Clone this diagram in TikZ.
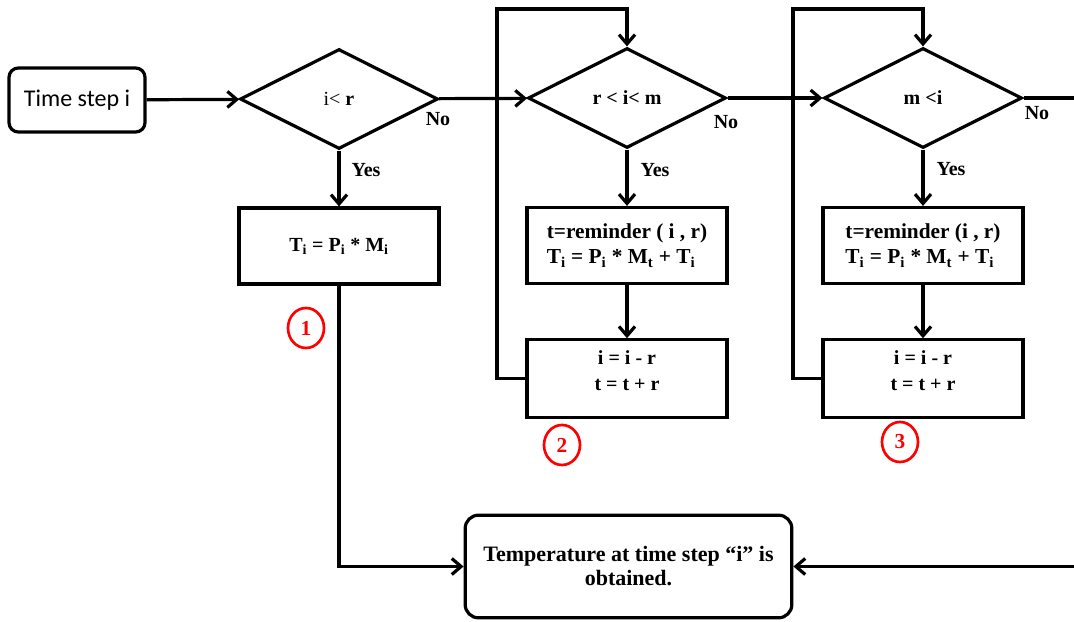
\documentclass[tikz,border=0pt]{standalone}
\usepackage{fontspec}
\setmainfont{Liberation Serif}
\newfontfamily\calibrifont{Carlito}
\usetikzlibrary{shapes.geometric,arrows.meta}

\tikzset{
  lbl/.style={font=\bfseries\fontsize{15}{19}\selectfont},
  biglbl/.style={font=\bfseries\fontsize{16}{19}\selectfont},
  startbox/.style={draw, rounded corners=7pt, line width=2.4pt, minimum width=102pt, minimum height=48pt, font=\calibrifont\fontsize{18}{20}\selectfont},
  decision/.style={diamond, draw, line width=2.4pt, minimum width=148.5pt, minimum height=75pt, inner sep=0pt, lbl},
  process/.style={rectangle, draw, line width=2.4pt, minimum width=150pt, minimum height=57pt, lbl},
  endbox/.style={rectangle, draw, rounded corners=10pt, line width=2.4pt, minimum width=245pt, minimum height=77pt, align=center, font=\bfseries\fontsize{16.5}{18}\selectfont},
  marker/.style={ellipse, draw=red, text=red, line width=2pt, minimum width=27pt, minimum height=30pt, inner sep=0pt, font=\bfseries\fontsize{16}{18}\selectfont},
  plainline/.style={line width=2.4pt},
  flowline/.style={line width=2.4pt, -{Straight Barb[length=7pt,width=12pt]}}
}

\begin{document}
\begin{tikzpicture}[x=0.75pt,y=-0.75pt]
		%%%%% START %%%%%
		\useasboundingbox (0,0) rectangle (1074,621);
		
		\node[startbox] (start) at (77,100) {Time step i};
		
		\node[decision] (test1) at (339,99) {{\mdseries i<} r};
		\node[decision] (test2) at (627,98) {r < i< m};
		\node[decision] (test3) at (923,98) {m <i};
		
		\node[lbl] (no1) at (438,119) {No};
		\node[lbl] (no2) at (726,122) {No};
		\node[lbl] (no3) at (1037,113) {No};
		\node[lbl] (yes1) at (366,170) {Yes};
		\node[lbl] (yes2) at (655,170) {Yes};
		\node[lbl] (yes3) at (951,169) {Yes};
		
		\node[process] (calc1) at (339,246) {T\textsubscript{i} = P\textsubscript{i} * M\textsubscript{i}};
		\node[process, biglbl, align=left] (calc2) at (627,245.5) {t=reminder ( i , r)\\T\textsubscript{i} = P\textsubscript{i} * M\textsubscript{t} + T\textsubscript{i}};
		\node[process, biglbl, align=left] (calc3) at (923,245.5) {t=reminder (i , r)\\T\textsubscript{i} = P\textsubscript{i} * M\textsubscript{t} + T\textsubscript{i}};
		
		\node[process, minimum height=58pt, align=center] (update2) at (627,378.5) {i = i - r\\t = t + r\\[-7pt]};
		\node[process, minimum height=58pt, align=center] (update3) at (923,378.5) {i = i - r\\t = t + r\\[-7pt]};
		
		\node[endbox] (result) at (628.5,566.5) {Temperature at time step “i" is\\obtained.};
		
		\node[marker] (mark1) at (306,328) {1};
		\node[marker] (mark2) at (562,445) {2};
		\node[marker] (mark3) at (900,442) {3};
		
		% main line
		\draw[flowline] (start) -- (test1);
		\draw[flowline] (test1) -- (test2);
		\draw[flowline] (test2) -- (test3);
		\coordinate (exitR) at (1074,98);
		\draw[plainline] (test3.east) -- (exitR);
		
		% yes branches
		\draw[flowline] (test1) -- (calc1);
		\draw[flowline] (test2) -- (calc2);
		\draw[flowline] (test3) -- (calc3);
		\draw[flowline] (calc2) -- (update2);
		\draw[flowline] (calc3) -- (update3);
		
		% loops back
		\coordinate (loop2) at (497,9);
		\coordinate (loop3) at (793,9);
		\draw[flowline] (update2.west) -| (loop2) -| (test2.north);
		\draw[flowline] (update3.west) -| (loop3) -| (test3.north);
		
		% to result
		\draw[flowline] (calc1.south) |- (result.west);
		\coordinate (exitB) at (1074,566.5);
		\draw[flowline] (exitB) -- (result.east);
		
		%%%%% END %%%%%
\end{tikzpicture}
\end{document}
